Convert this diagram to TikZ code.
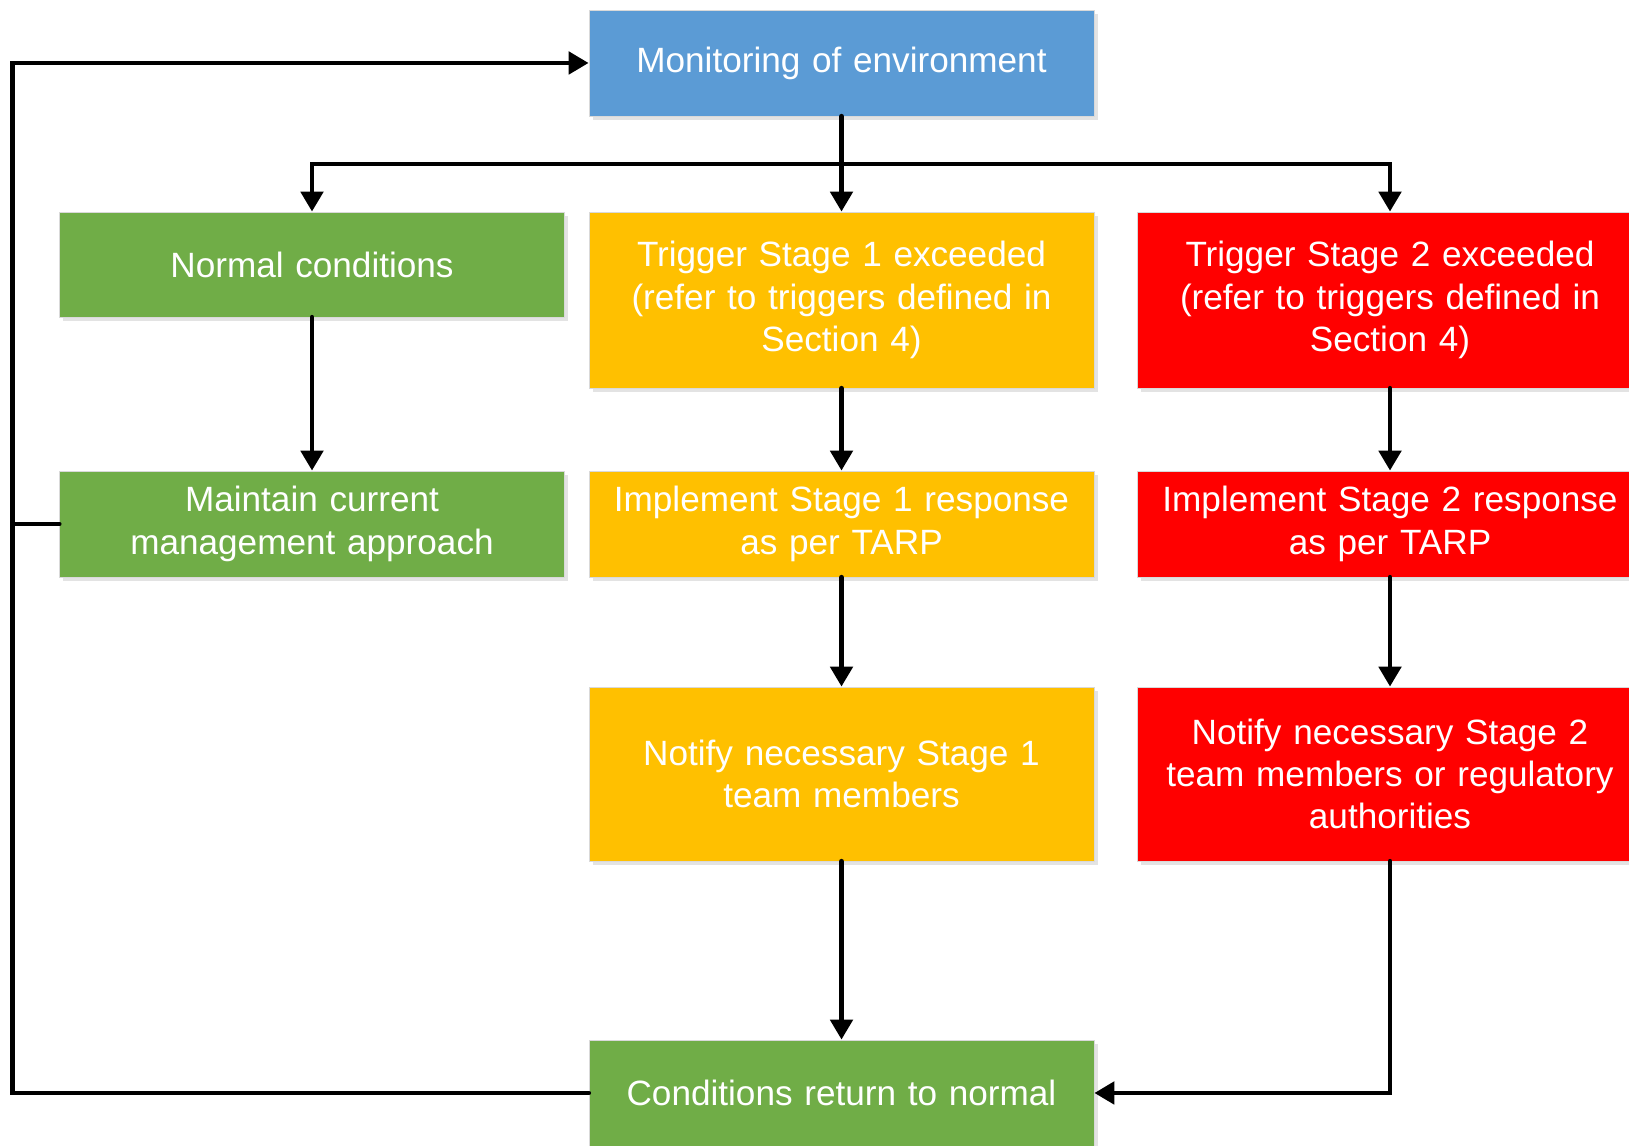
\documentclass[tikz,border=0pt]{standalone}
\usepackage{fontspec}
\setmainfont{Liberation Sans}
\usetikzlibrary{arrows.meta,shadows}

\definecolor{boxblue}{HTML}{5B9BD5}
\definecolor{boxgreen}{HTML}{70AD47}
\definecolor{boxamber}{HTML}{FFC000}
\definecolor{boxred}{HTML}{FF0000}

\begin{document}
\begin{tikzpicture}[
    stagebox/.style={rectangle, draw=black!15, line width=0.4pt, text=white,
        minimum width=10.1cm, text width=9.8cm, align=center,
        font=\fontsize{20}{24}\selectfont, inner sep=0pt,
        drop shadow={shadow xshift=0.07cm, shadow yshift=-0.08cm, opacity=0.22}},
    flow/.style={line width=2.8pt, line cap=round, -{Triangle[length=0.4cm,width=0.44cm]}},
    plain/.style={line width=2.8pt, line cap=round}
]
\useasboundingbox (0,0) rectangle (32.58,22.92);
\clip (0,0) rectangle (32.58,22.92);

% Boxes
\node[stagebox, fill=boxblue, minimum height=2.12cm] (monitor) at (16.83,21.66) {Monitoring of environment};

\node[stagebox, fill=boxgreen, minimum height=2.1cm] (normal) at (6.24,17.63) {Normal conditions};
\node[stagebox, fill=boxamber, minimum height=3.52cm] (trigone) at (16.83,16.92) {Trigger Stage 1 exceeded\\(refer to triggers defined in\\Section 4)};
\node[stagebox, fill=boxred, minimum height=3.52cm] (trigtwo) at (27.8,16.92) {Trigger Stage 2 exceeded\\(refer to triggers defined in\\Section 4)};

\node[stagebox, fill=boxgreen, minimum height=2.12cm] (maintain) at (6.24,12.44) {Maintain current\\management approach};
\node[stagebox, fill=boxamber, minimum height=2.12cm] (implone) at (16.83,12.44) {Implement Stage 1 response\\as per TARP};
\node[stagebox, fill=boxred, minimum height=2.12cm] (impltwo) at (27.8,12.44) {Implement Stage 2 response\\as per TARP};

\node[stagebox, fill=boxamber, minimum height=3.48cm] (notifyone) at (16.83,7.44) {Notify necessary Stage 1\\team members};
\node[stagebox, fill=boxred, minimum height=3.48cm] (notifytwo) at (27.8,7.44) {Notify necessary Stage 2\\team members or regulatory\\authorities};

\node[stagebox, fill=boxgreen, minimum height=2.12cm] (recover) at (16.83,1.06) {Conditions return to normal};

% Split point and loop corner
\coordinate (split) at (16.83,19.64);
\coordinate (loopleft) at (0.25,1.06);

% Arrows
\draw[flow] (monitor.south) -- (trigone.north);
\draw[flow] (split) -| (normal.north);
\draw[flow] (split) -| (trigtwo.north);

\draw[flow] (normal.south) -- (maintain.north);
\draw[flow] (trigone.south) -- (implone.north);
\draw[flow] (trigtwo.south) -- (impltwo.north);

\draw[flow] (implone.south) -- (notifyone.north);
\draw[flow] (impltwo.south) -- (notifytwo.north);

\draw[flow] (notifyone.south) -- (recover.north);
\draw[flow] (notifytwo.south) |- (recover.east);

% Return loop
\draw[flow] (recover.west) -- (loopleft) |- (monitor.west);
\draw[plain] (maintain.west) -- (loopleft |- maintain.west);

\end{tikzpicture}
\end{document}
